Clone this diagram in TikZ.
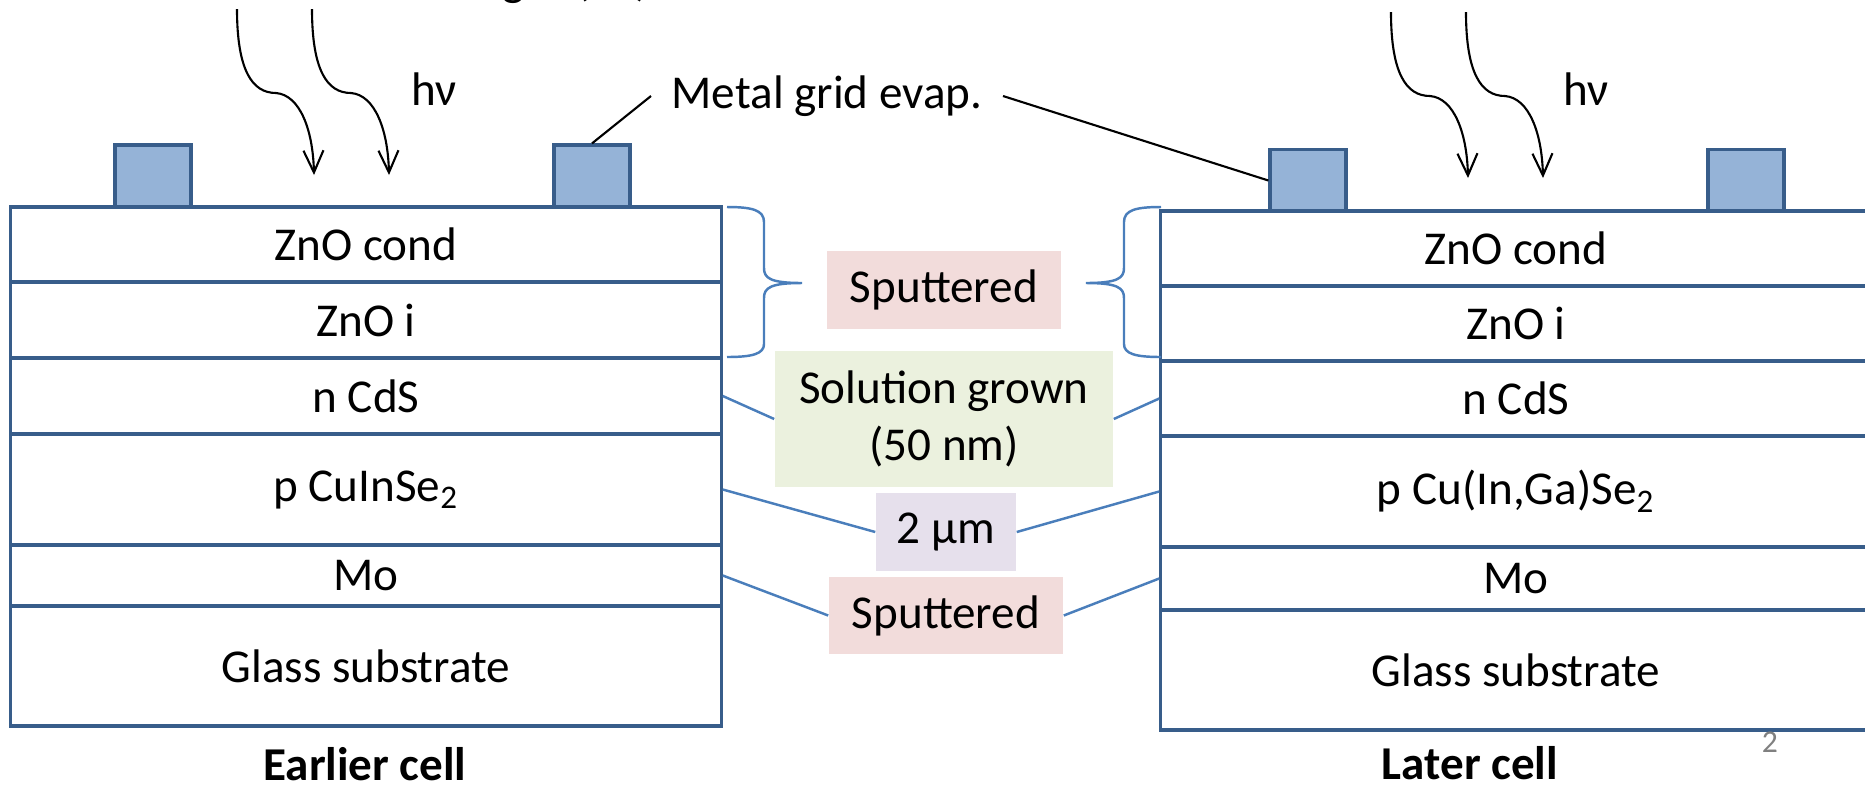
\documentclass[tikz,border=0pt]{standalone}
\usepackage{fontspec}
\setmainfont{Carlito}
\usetikzlibrary{positioning, arrows.meta}
\definecolor{cellblue}{RGB}{56,93,138}
\definecolor{padfill}{RGB}{149,179,215}
\definecolor{linkblue}{RGB}{74,126,187}
\definecolor{sputfill}{RGB}{242,220,219}
\definecolor{solnfill}{RGB}{235,241,222}
\definecolor{thickfill}{RGB}{230,224,236}
\tikzset{
	bodytext/.style={font=\fontsize{13.4}{16}\selectfont}
}
\tikzset{
	layer/.style={bodytext, draw=cellblue, line width=0.9pt, minimum width=7.1cm, inner sep=0pt},
	pad/.style={draw=cellblue, fill=padfill, line width=0.9pt, minimum width=0.76cm, minimum height=0.62cm, inner sep=0pt},
	tag/.style={bodytext, align=center, inner sep=0pt},
	link/.style={draw=linkblue, line width=0.7pt},
	celltitle/.style={font=\fontsize{13.4}{16}\selectfont\bfseries}
}
\tikzset{
  photon/.pic={
    \draw[line width=0.6pt, -{Straight Barb[length=2.2mm, width=2mm]}]
      (0,0) .. controls (0,61) and (15,84) .. (39,84)
            .. controls (63,86) and (76,121) .. (77,166);
  },
  sidebrace/.pic={
    \draw[link] (0,0) .. controls (25,0) and (37,3) .. (37,15) -- (37,61)
      .. controls (37,71) and (43,76) .. (75,76)
      .. controls (43,76) and (37,81) .. (37,91) -- (37,137)
      .. controls (37,147) and (25,150) .. (0,150);
  }
}
\begin{document}
\begin{tikzpicture}[x=0.01cm, y=-0.01cm]
      \useasboundingbox (0,0) rectangle (1865,787);
      \clip (0,0) rectangle (1865,787);
      % title line above is cut off by the frame, only its tail shows
      \node[bodytext, anchor=base east] (light) at (662,-5) {Light (hν)};
      % light coming in
      \pic at (237,9) {photon};
      \pic at (312,9) {photon};
      \pic at (1391,12) {photon};
      \pic at (1466,12) {photon};
      \node[bodytext] (hvl) at (434,89) {hν};
      \node[bodytext] (hvr) at (1586,89) {hν};
      % contact pads
      \node[pad] (lp1) at (153,176) {};
      \node[pad] (lp2) at (592,176) {};
      \node[pad] (rp1) at (1308,180.5) {};
      \node[pad] (rp2) at (1746,180.5) {};
      % earlier cell stack
      \node[layer, minimum height=0.75cm] (lzc) at (366,244.5) {ZnO cond};
      \node[layer, minimum height=0.76cm] (lzi) at (366,320) {ZnO i};
      \node[layer, minimum height=0.76cm] (lcds) at (366,396) {n CdS};
      \node[layer, minimum height=1.11cm] (lcis) at (366,489.5) {p CuInSe\textsubscript{2}};
      \node[layer, minimum height=0.61cm] (lmo) at (366,575.5) {Mo};
      \node[layer, minimum height=1.2cm] (lgl) at (366,666) {Glass substrate};
      \node[celltitle] (ltitle) at (365,764) {Earlier cell};
      % later cell stack, runs past the right edge
      \node[layer, minimum height=0.75cm] (rzc) at (1516,248.5) {ZnO cond};
      \node[layer, minimum height=0.75cm] (rzi) at (1516,323.5) {ZnO i};
      \node[layer, minimum height=0.75cm] (rcds) at (1516,398.5) {n CdS};
      \node[layer, minimum height=1.11cm] (rcigs) at (1516,491.5) {p Cu(In,Ga)Se\textsubscript{2}};
      \node[layer, minimum height=0.63cm] (rmo) at (1516,578.5) {Mo};
      \node[layer, minimum height=1.2cm] (rgl) at (1516,670) {Glass substrate};
      \node[celltitle] (rtitle) at (1470,763) {Later cell};
      % process labels in the middle
      \node[tag, fill=sputfill, minimum width=2.34cm, minimum height=0.78cm] (sput) at (944,290) {Sputtered};
      \node[tag, fill=solnfill, minimum width=3.38cm, minimum height=1.36cm] (soln) at (944,419) {Solution grown\\(50 nm)};
      \node[tag, fill=thickfill, minimum width=1.4cm, minimum height=0.78cm] (thick) at (946,532) {2 µm};
      \node[tag, fill=sputfill, minimum width=2.34cm, minimum height=0.77cm] (sputmo) at (946,615.5) {Sputtered};
      \pic at (727,207) {sidebrace};
      \pic[xscale=-1] at (1161,207) {sidebrace};
      \draw[link] (lcds.east) -- (soln.west);
      \draw[link] (soln.east) -- (rcds.west);
      \draw[link] (lcis.east) -- (thick.west);
      \draw[link] (thick.east) -- (rcigs.west);
      \draw[link] (lmo.east) -- (sputmo.west);
      \draw[link] (sputmo.east) -- (rmo.west);
      % grid label
      \node[bodytext, inner xsep=0.2cm] (metal) at (827,96) {Metal grid evap.};
      \draw[line width=0.6pt] (lp2.north) -- (metal.west);
      \draw[line width=0.6pt] (metal.east) -- (rp1.west);
      \node[font=\fontsize{9}{11}\selectfont, text=gray] (pg) at (1770,742) {2};
\end{tikzpicture}
\end{document}
